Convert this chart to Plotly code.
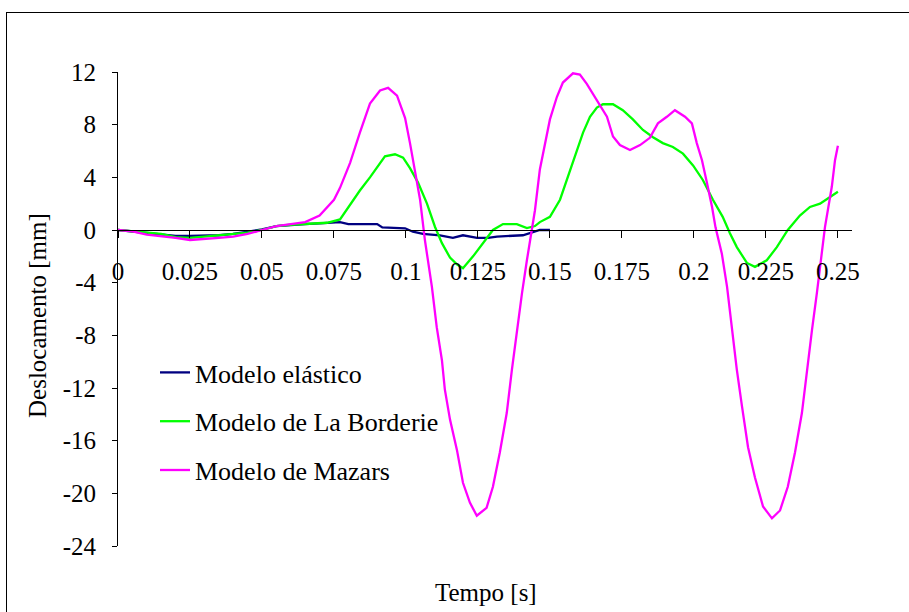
import plotly.graph_objects as go

# ---- data ----
t_elastico = [0, 0.005, 0.01, 0.015, 0.02, 0.025, 0.03, 0.035, 0.04, 0.045, 0.05, 0.055, 0.06,
              0.065, 0.07, 0.075, 0.0771, 0.08, 0.09, 0.0918, 0.0997, 0.1024, 0.1059, 0.1118,
              0.1163, 0.1198, 0.1247, 0.1285, 0.1316, 0.1406, 0.1441, 0.1465, 0.15]
d_elastico = [0, -0.1, -0.2, -0.3, -0.45, -0.45, -0.45, -0.4, -0.3, -0.15, 0.05, 0.3, 0.4,
              0.45, 0.5, 0.6, 0.6, 0.45, 0.45, 0.2, 0.13, -0.13, -0.3, -0.4,
              -0.6, -0.4, -0.6, -0.6, -0.5, -0.4, -0.13, 0, 0]

t_borderie = [0, 0.005, 0.01, 0.015, 0.02, 0.025, 0.03, 0.035, 0.04, 0.045, 0.05, 0.055, 0.06,
              0.0667, 0.0726, 0.0771, 0.0806, 0.084, 0.0875, 0.0903, 0.0927, 0.0962, 0.099,
              0.1014, 0.1042, 0.1073, 0.1101, 0.1125, 0.1153, 0.1177, 0.1198, 0.1233, 0.1267,
              0.1302, 0.1337, 0.1385, 0.142, 0.1448, 0.1465, 0.15, 0.1535, 0.157, 0.1594,
              0.1615, 0.1639, 0.1663, 0.1684, 0.1719, 0.1753, 0.1788, 0.1823, 0.1858, 0.1892,
              0.1927, 0.1962, 0.1997, 0.2031, 0.2066, 0.21, 0.2125, 0.2149, 0.2184, 0.2212,
              0.2253, 0.2288, 0.2326, 0.2368, 0.2403, 0.2438, 0.2472, 0.25]
d_borderie = [0, -0.1, -0.2, -0.3, -0.55, -0.6, -0.5, -0.4, -0.35, -0.2, 0, 0.3, 0.4,
              0.45, 0.55, 0.8, 1.9, 3.0, 4.0, 4.9, 5.6, 5.75, 5.5,
              4.7, 3.6, 2.0, 0.23, -1.0, -2.1, -2.6, -2.9, -2.0, -1.0,
              0, 0.45, 0.45, 0.15, 0.3, 0.6, 1.0, 2.3, 4.5, 6.1,
              7.4, 8.6, 9.3, 9.55, 9.55, 9.1, 8.4, 7.6, 7.05, 6.6,
              6.3, 5.8, 4.9, 3.8, 2.3, 1.0, -0.25, -1.3, -2.5, -2.8,
              -2.3, -1.3, 0, 1.1, 1.75, 2.0, 2.5, 2.9]

t_mazars = [0, 0.005, 0.01, 0.015, 0.02, 0.025, 0.03, 0.035, 0.04, 0.045, 0.05, 0.055, 0.06,
            0.065, 0.07, 0.075, 0.0771, 0.0806, 0.084, 0.0875, 0.091, 0.0938, 0.0969, 0.0997,
            0.1014, 0.1031, 0.1049, 0.1066, 0.109, 0.1107, 0.1125, 0.1135, 0.1153, 0.1177,
            0.1198, 0.1222, 0.1246, 0.128, 0.1302, 0.1326, 0.135, 0.1368, 0.1385, 0.1403,
            0.142, 0.1438, 0.1448, 0.1465, 0.1483, 0.15, 0.1524, 0.1545, 0.158, 0.1604,
            0.1628, 0.1663, 0.1698, 0.1719, 0.1743, 0.1778, 0.1813, 0.1847, 0.1875, 0.1906,
            0.1934, 0.1969, 0.1993, 0.201, 0.2028, 0.2045, 0.2063, 0.2075, 0.2097, 0.2115,
            0.2132, 0.2149, 0.2167, 0.2188, 0.2212, 0.224, 0.2271, 0.2299, 0.2326, 0.2351,
            0.2375, 0.2392, 0.241, 0.2427, 0.2444, 0.2455, 0.2479, 0.249, 0.25]
d_mazars = [0, -0.1, -0.35, -0.45, -0.6, -0.76, -0.7, -0.6, -0.5, -0.3, 0, 0.3, 0.45,
            0.6, 1.1, 2.3, 3.2, 5.1, 7.4, 9.6, 10.6, 10.8, 10.2, 8.5,
            6.6, 4.6, 2.3, -0.8, -4.3, -7.4, -9.9, -12.1, -14.4, -16.7,
            -19.2, -20.7, -21.7, -21.1, -19.5, -16.9, -13.9, -10.6, -7.6, -4.8,
            -2.3, 0, 1.5, 4.6, 6.6, 8.4, 10.1, 11.2, 11.9, 11.8,
            11.1, 9.9, 8.6, 7.1, 6.45, 6.07, 6.45, 7.0, 8.1, 8.6,
            9.1, 8.6, 8.1, 6.6, 5.3, 3.6, 1.75, 0.2, -1.8, -4.3,
            -7.4, -10.6, -13.4, -16.5, -18.8, -21.0, -21.9, -21.3, -19.5, -16.9,
            -13.9, -10.6, -7.6, -4.8, -1.8, 0.2, 3.3, 5.3, 6.4]

series_names = ["Modelo elástico", "Modelo de La Borderie", "Modelo de Mazars"]
series_colors = ["#000080", "#00FF00", "#FF00FF"]

x_tickvals = [0, 0.025, 0.05, 0.075, 0.1, 0.125, 0.15, 0.175, 0.2, 0.225, 0.25]
x_ticktext = ["0", "0.025", "0.05", "0.075", "0.1", "0.125", "0.15", "0.175", "0.2", "0.225", "0.25"]
y_tickvals = [-24, -20, -16, -12, -8, -4, 0, 4, 8, 12]
y_ticktext = ["-24", "-20", "-16", "-12", "-8", "-4", "0", "4", "8", "12"]

FONT = "Liberation Serif, Times New Roman, serif"

fig = go.Figure()
for i, (tx, dy) in enumerate([(t_elastico, d_elastico), (t_borderie, d_borderie), (t_mazars, d_mazars)]):
    fig.add_trace(go.Scatter(
        x=tx, y=dy, mode="lines", name=series_names[i], legendgroup=f"g{i}",
        line=dict(color=series_colors[i], width=2.3),
    ))

W, H = 909, 612
L, T = 118, 72
R = W - 852
B = H - 546
pw, ph = W - L - R, H - T - B

def px_to_paper_x(px):
    return (px - L) / pw

def py_to_paper_y(py):
    return (H - B - py) / ph

frame_line = dict(color="black", width=1)
fig.update_layout(
    width=W, height=H,
    margin=dict(l=L, r=R, t=T, b=B),
    paper_bgcolor="white", plot_bgcolor="white",
    font=dict(family=FONT, size=25, color="black"),
    showlegend=True,
    legend=dict(
        x=px_to_paper_x(155), y=py_to_paper_y(349), xanchor="left", yanchor="top",
        bgcolor="rgba(0,0,0,0)", font=dict(family=FONT, size=26, color="black"),
        tracegroupgap=12, traceorder="grouped",
    ),
    xaxis=dict(
        range=[0, 0.2549], tickvals=x_tickvals, ticktext=x_ticktext,
        showgrid=False, zeroline=False, showline=True, linecolor="black", linewidth=1,
        ticks="outside", ticklen=7, tickcolor="black", tickwidth=1,
        anchor="free", position=24 / 36, ticklabelstandoff=12,
        tickfont=dict(family=FONT, size=25, color="black"),
    ),
    yaxis=dict(
        range=[-24, 12], tickvals=y_tickvals, ticktext=y_ticktext,
        showgrid=False, zeroline=False, showline=True, linecolor="black", linewidth=1,
        ticks="outside", ticklen=5, tickcolor="black", tickwidth=1,
        ticklabelstandoff=11,
        tickfont=dict(family=FONT, size=25, color="black"),
    ),
    shapes=[
        dict(type="line", xref="paper", yref="paper",
             x0=px_to_paper_x(6), x1=px_to_paper_x(909), y0=py_to_paper_y(12.5), y1=py_to_paper_y(12.5),
             line=frame_line, layer="below"),
        dict(type="line", xref="paper", yref="paper",
             x0=px_to_paper_x(6.5), x1=px_to_paper_x(6.5), y0=py_to_paper_y(12), y1=py_to_paper_y(612),
             line=frame_line, layer="below"),
    ],
    annotations=[
        dict(text="Tempo [s]", xref="paper", yref="paper", x=px_to_paper_x(486), y=py_to_paper_y(592),
             xanchor="center", yanchor="middle", showarrow=False,
             font=dict(family=FONT, size=25, color="black")),
        dict(text="Deslocamento [mm]", xref="paper", yref="paper", x=px_to_paper_x(37), y=py_to_paper_y(316),
             xanchor="center", yanchor="middle", showarrow=False, textangle=-90,
             font=dict(family=FONT, size=25, color="black")),
    ],
)

fig.write_html("out.html", config={"displayModeBar": False},
               post_script="document.body.style.margin='0';document.body.style.overflow='hidden';")
